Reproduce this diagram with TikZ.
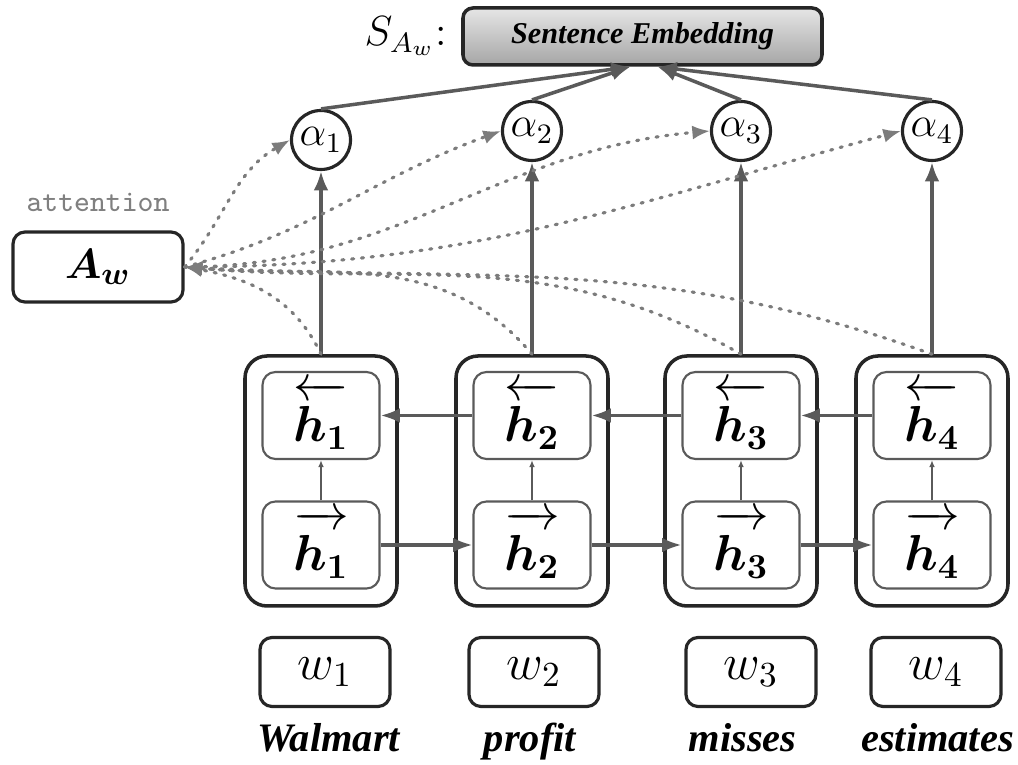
\documentclass[tikz,border=0pt]{standalone}
\usepackage{fontspec}
\usepackage{bm}
\usepackage{xcolor}
\usepackage{tikz}
\usetikzlibrary{shapes,positioning,calc,arrows.meta}
\newfontfamily\wordfont{Liberation Serif}
\definecolor{linegray}{HTML}{5A5A5A}
\definecolor{dotgray}{HTML}{7C7C7C}

\begin{document}
\begin{tikzpicture}[
    outerbox/.style={draw=black!85, line width=1pt, rounded corners=0.22cm, minimum width=1.52cm, minimum height=2.5cm},
    innerbox/.style={draw=linegray, line width=0.6pt, rounded corners=0.13cm, minimum width=1.17cm, minimum height=0.87cm, inner sep=0pt, font=\Large},
    wordbox/.style={draw=black!85, line width=0.9pt, rounded corners=0.12cm, minimum width=1.3cm, minimum height=0.69cm, font=\Large},
    attnode/.style={draw=black!85, circle, line width=0.9pt, minimum size=0.59cm, inner sep=0pt, font=\large},
    word/.style={font=\wordfont\bfseries\itshape\fontsize{11.5}{13}\selectfont, anchor=base},
    arr/.style={draw=linegray, line width=1pt, -{Latex[length=5.5pt,width=4.2pt]}},
    smallarr/.style={draw=linegray, line width=0.4pt, -{Latex[length=2pt,width=1.6pt]}},
    dotarr/.style={draw=dotgray, line width=0.9pt, dash pattern=on 0.6pt off 2.2pt, line cap=round, -{Latex[length=5pt,width=4pt]}}
]
    \useasboundingbox (0,0) rectangle (10.18,7.65);

    % Sentence embedding on top
    \node [draw=black!85, line width=1pt, rounded corners=0.1cm, top color=gray!20, bottom color=gray!70, minimum width=3.59cm, minimum height=0.57cm, font=\wordfont\bfseries\itshape\fontsize{8.6}{10}\selectfont] (emb) at (6.425,7.285) {Sentence Embedding};
    \node [left=0.02cm of emb, font=\large] (slabel) {$S_{A_w}$:};
    \coordinate (tipL) at ($(emb.south)+(-0.12,0)$);
    \coordinate (tipR) at ($(emb.south)+(0.15,0)$);

    % Attention vector
    \node [draw=black!85, line width=0.9pt, rounded corners=0.12cm, minimum width=1.70cm, minimum height=0.70cm, font=\fontsize{13}{15}\selectfont] (aw) at (0.98,4.98) {$\bm{A_w}$};
    \node [above=0.06cm of aw, font=\ttfamily\fontsize{8.6}{10}\selectfont, text=gray] (attn) {attention};

    % BiLSTM columns and weights
    \foreach \i/\x/\ay in {1/3.21/6.25, 2/5.32/6.34, 3/7.41/6.34, 4/9.32/6.34} {
        \node [outerbox] (c\i) at (\x,2.84) {};
        \node [innerbox] (b\i) at (\x,3.495) {$\overleftarrow{\rule{0pt}{0.88em}\bm{h}_{\bm{\i}}}$};
        \node [innerbox] (f\i) at (\x,2.20) {$\overrightarrow{\rule{0pt}{0.88em}\bm{h}_{\bm{\i}}}$};
        \node [attnode] (a\i) at (\x,\ay) {$\alpha_\i$};
        \draw [smallarr] (f\i.north) -- (b\i.south);
        \draw [arr] (c\i.north) -- (a\i.south);
    }

    % Words
    \foreach \i/\x/\lx/\txt in {1/3.25/3.285/Walmart, 2/5.34/5.30/profit, 3/7.51/7.425/misses, 4/9.36/9.375/estimates} {
        \node [wordbox] (w\i) at (\x,0.93) {$w_\i$};
        \node [word] (l\i) at (\lx,0.13) {\txt};
    }

    % Recurrent links
    \foreach \i/\j in {1/2, 2/3, 3/4} {
        \draw [arr] (f\i.east) -- (f\j.west);
        \draw [arr] (b\j.west) -- (b\i.east);
    }

    % Weights into the sentence embedding
    \draw [arr] (a1.north) -- (tipL);
    \draw [arr] (a2.north) -- (tipL);
    \draw [arr] (a3.north) -- (tipR);
    \draw [arr] (a4.north) -- (tipR);

    % Dotted attention flow
    \draw [dotarr] (c1.north) to[out=115, in=-10] (aw.east);
    \draw [dotarr] (c2.north) to[out=130, in=-5] (aw.east);
    \draw [dotarr] (c3.north) to[out=150, in=-5] (aw.east);
    \draw [dotarr] (c4.north) to[out=160, in=-3] (aw.east);
    \draw [dotarr] (aw.east) to[out=50, in=210] (a1.west);
    \draw [dotarr] (aw.east) to[out=15, in=200] (a2.west);
    \draw [dotarr] (aw.east) to[out=0, in=185] (a3.west);
    \draw [dotarr] (aw.east) to[out=0, in=195] (a4.west);
\end{tikzpicture}
\end{document}
